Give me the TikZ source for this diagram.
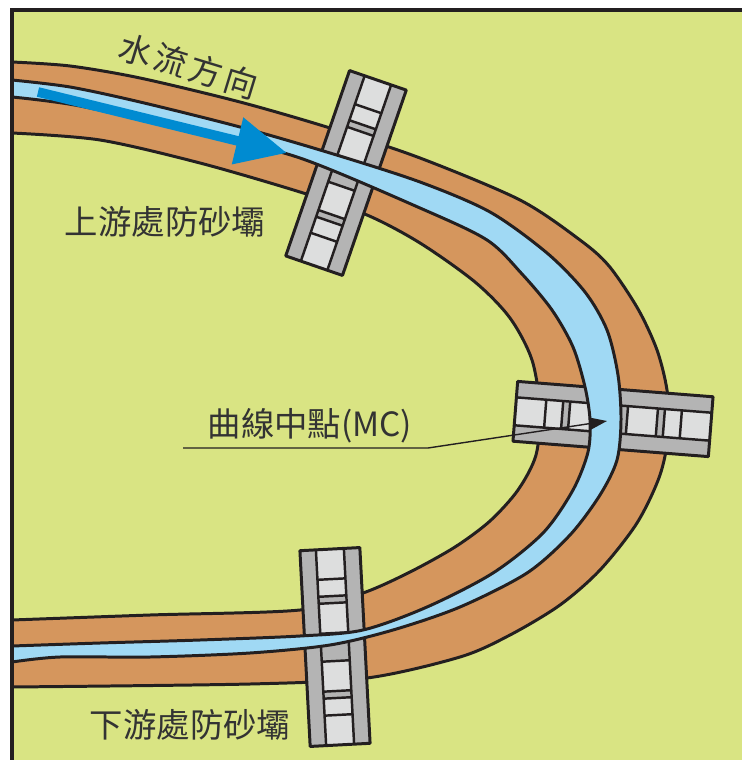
\documentclass[tikz,border=0pt]{standalone}
\usepackage{fontspec}
\usepackage{tikz}
\usetikzlibrary{arrows.meta, positioning}
\newfontfamily\cjk{Noto Sans CJK TC}
\newfontfamily\cjkwide[LetterSpace=10]{Noto Sans CJK TC}

\definecolor{land}{RGB}{217,228,131}
\definecolor{bank}{RGB}{213,150,93}
\definecolor{water}{RGB}{160,217,244}
\definecolor{flow}{RGB}{0,139,209}
\definecolor{damdark}{RGB}{180,180,180}
\definecolor{damlight}{RGB}{221,222,222}
\definecolor{ink}{RGB}{35,31,32}

\tikzstyle{rimline} = [draw=ink, line width=1.7pt, line join=round]
\tikzstyle{damline} = [draw=ink, line width=1.4pt]
\tikzstyle{cjktext} = [font=\cjk\fontsize{19pt}{19pt}\selectfont, text=black!80, inner sep=0pt]
\tikzstyle{pointer} = [draw=ink, line width=0.8pt, -{Triangle[length=10pt,width=7pt]}]
\tikzstyle{flowarrow} = [draw=flow, line width=5.5pt, -{Triangle[length=29pt,width=26pt]}]

\tikzset{
  dam/.pic={
    \fill[damdark] (-30,-98) rectangle (30,98);
    \fill[damlight] (-14,-98) rectangle (14,98);
    \fill[damdark] (-14,-14) rectangle (14,14);
    \foreach \s in {-1,1} {
      \fill[damdark] (-14,\s*44) rectangle (14,\s*51);
      \foreach \v in {14,44,51,68}
        \draw[damline] (-14,\s*\v) -- (14,\s*\v);
    }
    \draw[damline] (-14,-98) -- (-14,98) (14,-98) -- (14,98);
    \draw[rimline] (-30,-98) rectangle (30,98);
  }
}

% river banks and water edges, upstream end first
\def\outerbank{(12,62) (70,66) (140,78) (240,102) (330,128) (420,158) (520,200)
  (580,240) (609,266) (638,309) (657,350) (667,390) (669,430) (660,475)
  (637,523) (600,570) (560,605) (510,635) (460,657) (367,678) (250,684) (12,687)}
\def\outerwater{(12,80) (70,87) (140,102) (240,127) (330,153) (420,182) (490,212)
  (547,253) (585,292) (607,330) (618,375) (621,420) (617,460) (600,495)
  (570,535) (527,573) (460,607) (393,630) (330,645) (250,653) (150,657)
  (60,657) (12,662)}
\def\innerwater{(12,97) (80,106) (200,133) (300,158) (420,208) (487,240)
  (522,274) (552,310) (573,347) (585,387) (590,420) (588,452) (573,490)
  (543,533) (493,573) (427,607) (363,630) (300,636) (200,640) (100,643)
  (12,646)}
\def\innerbank{(12,133) (100,140) (200,163) (300,192) (367,215) (420,243)
  (475,282) (510,318) (532,360) (540,410) (536,455) (518,490) (490,521)
  (455,547) (410,572) (363,593) (300,610) (150,615) (12,620)}

\begin{document}
\begin{tikzpicture}[x=0.02cm, y=-0.02cm]
  \useasboundingbox (0,0) rectangle (742,760);
  \fill[white] (0,0) rectangle (742,760);
  \fill[land] (12,10) rectangle (742,760);

  \begin{scope}
    \clip (12,10) rectangle (742,760);
    \fill[bank, even odd rule] plot[smooth] coordinates {\outerbank} -- cycle
      plot[smooth] coordinates {\innerbank} -- cycle;
    \draw[rimline] plot[smooth] coordinates {\outerbank};
    \draw[rimline] plot[smooth] coordinates {\innerbank};

    \pic[rotate=-19] (updam) at (346,173) {dam};
    \pic[rotate=85.5] (mcdam) at (613,419) {dam};
    \pic[rotate=3] (downdam) at (335,647) {dam};

    \fill[water, even odd rule] plot[smooth] coordinates {\outerwater} -- cycle
      plot[smooth] coordinates {\innerwater} -- cycle;
    \draw[rimline] plot[smooth] coordinates {\outerwater};
    \draw[rimline] plot[smooth] coordinates {\innerwater};
  \end{scope}

  \coordinate (flowtail) at (38,92);
  \coordinate (flowtip) at (287,153);
  \draw[flowarrow] (flowtail) -- (flowtip);

  \node[cjktext, font=\cjkwide\fontsize{19pt}{19pt}\selectfont, rotate=-17]
    (flowtext) at (189,66) {水流方向};
  \node[cjktext] (uptext) at (165,222) {上游處防砂壩};
  \node[cjktext] (mctext) at (310,426) {曲線中點(MC)};
  \node[cjktext] (downtext) at (190,725) {下游處防砂壩};

  \coordinate (mcfoot) at (183,448);
  \coordinate (mcbend) at (428,448);
  \coordinate (mctip) at (607,421);
  \draw[pointer] (mcfoot) -- (mcbend) -- (mctip);

  \draw[ink, line width=2pt] (12,760) -- (12,10) -- (742,10);
\end{tikzpicture}
\end{document}
